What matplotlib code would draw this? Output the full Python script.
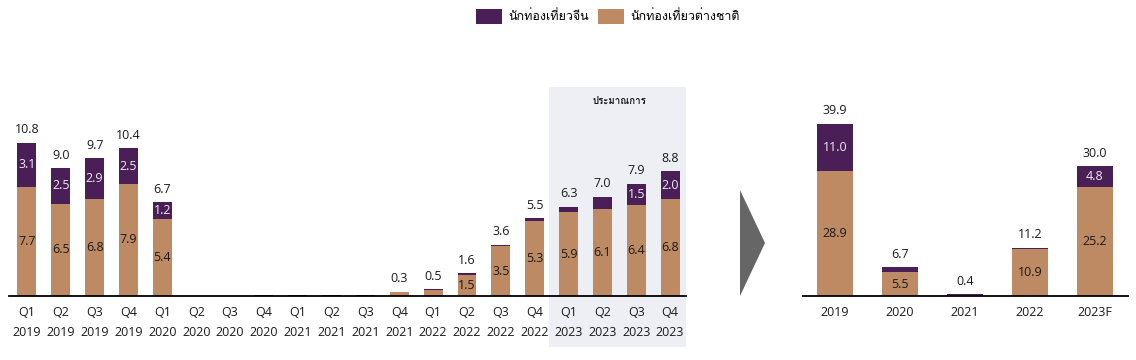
import matplotlib
matplotlib.use("Agg")
import matplotlib.pyplot as plt
from matplotlib import font_manager
from matplotlib.ft2font import FT2Font
from matplotlib.patches import Patch, Polygon, Rectangle
import matplotlib.transforms as mtransforms

# -------------------------------
# Data (million tourists)
# -------------------------------
quarters = ["Q1\n2019", "Q2\n2019", "Q3\n2019", "Q4\n2019",
            "Q1\n2020", "Q2\n2020", "Q3\n2020", "Q4\n2020",
            "Q1\n2021", "Q2\n2021", "Q3\n2021", "Q4\n2021",
            "Q1\n2022", "Q2\n2022", "Q3\n2022", "Q4\n2022",
            "Q1\n2023", "Q2\n2023", "Q3\n2023", "Q4\n2023"]
q_other = [7.7, 6.5, 6.8, 7.9, 5.4, 0.0, 0.0, 0.03, 0.03, 0.03, 0.03, 0.25,
           0.44, 1.5, 3.5, 5.3, 5.9, 6.1, 6.4, 6.8]
q_china = [3.1, 2.5, 2.9, 2.5, 1.2, 0.0, 0.0, 0.07, 0.07, 0.07, 0.07, 0.05,
           0.06, 0.1, 0.1, 0.2, 0.4, 0.9, 1.5, 2.0]
q_total = [10.8, 9.0, 9.7, 10.4, 6.7, None, None, None, None, None, None, 0.3,
           0.5, 1.6, 3.6, 5.5, 6.3, 7.0, 7.9, 8.8]
q_other_lbl = [7.7, 6.5, 6.8, 7.9, 5.4, None, None, None, None, None, None, None,
               None, 1.5, 3.5, 5.3, 5.9, 6.1, 6.4, 6.8]
q_china_lbl = [3.1, 2.5, 2.9, 2.5, 1.2, None, None, None, None, None, None, None,
               None, None, None, None, None, None, 1.5, 2.0]

years = ["2019", "2020", "2021", "2022", "2023F"]
y_other = [28.9, 5.5, 0.3, 10.9, 25.2]
y_china = [11.0, 1.2, 0.1, 0.3, 4.8]
y_total = [39.9, 6.7, 0.4, 11.2, 30.0]
y_other_lbl = [28.9, 5.5, None, 10.9, 25.2]
y_china_lbl = [11.0, None, None, None, 4.8]

forecast_label = "ประมาณการ"
legend_labels = ["นักท่องเที่ยวจีน", "นักท่องเที่ยวต่างชาติ"]

PURPLE = "#4A1F57"
BROWN = "#BD8A63"


# find an installed font that has Thai glyphs
def find_thai_font():
    for f in font_manager.fontManager.ttflist:
        try:
            if 0x0E19 in FT2Font(f.fname).get_charmap():
                return f.name
        except Exception:
            pass
    return None


thai = find_thai_font()
families = ["Open Sans"] + ([thai] if thai else []) + ["DejaVu Sans"]
plt.rcParams["font.family"] = families

fig = plt.figure(figsize=(11.36, 3.6), dpi=100)
W, H = 1136, 360


def ax_rect(x0, x1, top, bottom):
    return [x0 / W, 1 - bottom / H, (x1 - x0) / W, (bottom - top) / H]


def style(ax):
    for s in ["top", "right", "left"]:
        ax.spines[s].set_visible(False)
    ax.spines["bottom"].set_linewidth(1.3)
    ax.set_yticks([])
    ax.tick_params(axis="x", length=0, pad=7, labelsize=9, colors="#1a1a1a")


def draw_bars(ax, xs, other, china, total, other_lbl, china_lbl, width, gap):
    ax.bar(xs, other, width, color=BROWN, zorder=2)
    ax.bar(xs, china, width, bottom=other, color=PURPLE, zorder=2)
    for x, o, c, t, ol, cl in zip(xs, other, china, total, other_lbl, china_lbl):
        if ol is not None:
            ax.text(x, o / 2, f"{ol:.1f}", ha="center", va="center",
                    fontsize=9, color="#1a1a1a", zorder=3)
        if cl is not None:
            ax.text(x, o + c / 2, f"{cl:.1f}", ha="center", va="center",
                    fontsize=9, color="#EDEAF2", zorder=3)
        if t is not None:
            ax.text(x, o + c + gap, f"{t:.1f}", ha="center", va="bottom",
                    fontsize=9, color="#1a1a1a", zorder=3)


# -------------------------------
# Left: quarterly
# -------------------------------
ax1 = fig.add_axes(ax_rect(9, 686, 87, 296))
style(ax1)
xq = list(range(len(quarters)))
ax1.set_xlim(-0.53, len(quarters) - 0.53)
ax1.set_ylim(0, 14.72)

# forecast shading (2023)
trans = mtransforms.blended_transform_factory(ax1.transData, ax1.transAxes)
shade = Rectangle((15.42, -0.245), len(quarters) - 0.53 - 15.42, 1.245,
                  transform=trans, facecolor="#EEEFF4", edgecolor="none",
                  clip_on=False, zorder=0)
ax1.add_patch(shade)
ax1.text(17.5, 0.933, forecast_label, transform=trans, ha="center",
         va="center", fontsize=7, fontweight="bold", color="#1a1a1a")

draw_bars(ax1, xq, q_other, q_china, q_total, q_other_lbl, q_china_lbl,
          0.56, 0.45)
ax1.set_xticks(xq)
ax1.set_xticklabels(quarters, linespacing=1.75)

# -------------------------------
# Right: annual
# -------------------------------
ax2 = fig.add_axes(ax_rect(803, 1128, 87, 296))
style(ax2)
xy = list(range(len(years)))
ax2.set_xlim(-0.49, 4.51)
ax2.set_ylim(0, 48.4)
draw_bars(ax2, xy, y_other, y_china, y_total, y_other_lbl, y_china_lbl,
          0.55, 1.5)
ax2.set_xticks(xy)
ax2.set_xticklabels(years)

# arrow between panels
tri = Polygon([(740 / W, 1 - 190 / H), (765 / W, 1 - 243 / H), (740 / W, 1 - 296 / H)],
              closed=True, transform=fig.transFigure, facecolor="#666666",
              edgecolor="none")
fig.patches.append(tri)

# legend
handles = [Patch(facecolor=PURPLE), Patch(facecolor=BROWN)]
fig.legend(handles, legend_labels, loc="center", bbox_to_anchor=(0.535, 0.955),
           ncol=2, frameon=False, fontsize=9, handlelength=2.1,
           handleheight=1.5, handletextpad=0.5, columnspacing=0.7)

fig.savefig("out.png", dpi=100)
